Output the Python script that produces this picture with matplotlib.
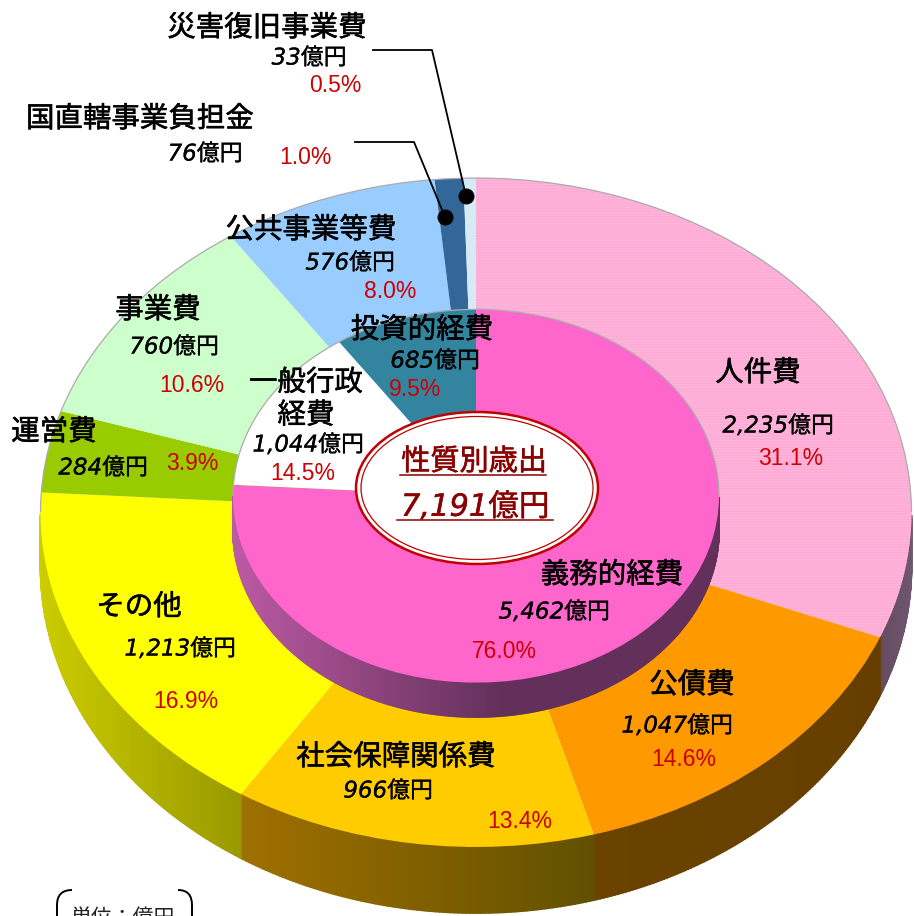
import numpy as np
import matplotlib
matplotlib.use("Agg")
import matplotlib.pyplot as plt
import matplotlib.patheffects as pe
from matplotlib.collections import PolyCollection
from matplotlib.colors import to_rgb
from matplotlib.patches import Ellipse, Arc, PathPatch
from matplotlib.path import Path

# ---- data ----
outer_names = ["人件費", "公債費", "社会保障関係費", "その他", "運営費", "事業費",
               "公共事業等費", "国直轄事業負担金", "災害復旧事業費"]
outer_values = [2235, 1047, 966, 1213, 284, 760, 576, 76, 33]
outer_pct = [31.1, 14.6, 13.4, 16.9, 3.9, 10.6, 8.0, 1.0, 0.5]
inner_names = ["義務的経費", "一般行政\n経費", "投資的経費"]
inner_values = [5462, 1044, 685]
inner_pct = [76.0, 14.5, 9.5]
total_value = 7191
title_text = "性質別歳出"
unit_text = "単位：億円"

# ---- styles ----
outer_colors = ["#FFAAD5", "#FF9900", "#FFCC00", "#FFFF00", "#99CC00", "#CCFFCC",
                "#99CCFF", "#336699", "#D6EAF6"]
outer_side_l = ["#664B60", "#6B4300", "#A07000", "#CCCC00", "#667F00", "#80A080",
                "#6080A0", "#204060", "#8095A0"]
outer_side_r = ["#6E5870", "#663F00", "#625000", "#999900", "#667F00", "#80A080",
                "#6080A0", "#204060", "#8095A0"]
outer_side_span = [1, 1, 1, 1, 1, 1, 1, 1, 1]
inner_colors = ["#FF66CC", "#FFFFFF", "#33849F"]
inner_side_l = ["#BC5AA4", "#AAAAAA", "#205565"]
inner_side_r = ["#62305A", "#AAAAAA", "#205565"]
inner_side_span = [0.55, 1, 1]

W, H = 914, 916
ASPECT = 0.768
OUT_TOP = (476, 512.5, 435.5, 334.5)
OUT_BOT = (476, 566, 435.5, 347)
INN_TOP = (476, 496, 243, 186)
INN_BOT = (476, 530, 243, 187)
RED = "#CC0000"
DARK = "#8B0000"
CJK = "Noto Sans CJK JP"
NUMF = ["DejaVu Sans", CJK]

# label positions in image pixels (centre)
outer_name_xy = [(758, 371), (692, 683), (396, 755), (139, 605), (54, 430),
                 (158, 308), (311, 228), (140, 117), (267, 26)]
outer_val_xy = [(778, 425), (677, 725), (388, 790), (180, 648), (103, 467),
                (174, 346), (350, 262), (205, 153), (309, 57)]
outer_pct_xy = [(791, 457), (684, 757), (520, 820), (186, 699), (192, 462),
                (192, 383), (390, 290), (305, 155), (335, 84)]
inner_name_xy = [(612, 573), (306, 397), (422, 328)]
inner_val_xy = [(554, 611), (308, 444), (435, 360)]
inner_pct_xy = [(504, 649), (303, 471), (415, 388)]


def px(x, y):
    return x, (H - y) / ASPECT


fig = plt.figure(figsize=(W / 100, H / 100), dpi=100)
ax = fig.add_axes([0, 0, 1, 1])


def draw_side(values, top, bot, left, right, span, z):
    fr = np.asarray(values, float) / sum(values)
    edges = np.concatenate([[0], np.cumsum(fr)]) * 360
    for i in range(len(values)):
        ts = np.arange(edges[i], edges[i + 1] + 0.5, 0.5)
        ts = ts[np.cos(np.radians(ts)) < 0.0]
        if len(ts) < 2:
            continue
        xs = top[0] + top[2] * np.sin(np.radians(ts))
        x0, x1 = xs.min(), xs.max()
        c0, c1 = np.array(to_rgb(left[i])), np.array(to_rgb(right[i]))
        polys, cols = [], []
        for a, b in zip(ts[:-1], ts[1:]):
            ra, rb = np.radians(a), np.radians(b)
            q = []
            for (c, r) in ((top, ra), (top, rb), (bot, rb), (bot, ra)):
                q.append(px(c[0] + c[2] * np.sin(r), c[1] - c[3] * np.cos(r)))
            polys.append(q)
            xm = top[0] + top[2] * np.sin((ra + rb) / 2)
            f = min(1.0, (xm - x0) / max(x1 - x0, 1) / span[i])
            cols.append(c0 + (c1 - c0) * f)
        ax.add_collection(PolyCollection(polys, facecolors=cols, edgecolors=cols,
                                         linewidths=1.3, zorder=z))


def draw_face(values, colors, geom, z):
    w, _ = ax.pie(values, colors=colors, startangle=90, counterclock=False,
                  radius=geom[2], center=px(geom[0], geom[1]),
                  wedgeprops=dict(linewidth=0, zorder=z), frame=False)
    return w


plt.rcParams["hatch.linewidth"] = 0.8
draw_side(outer_values, OUT_TOP, OUT_BOT, outer_side_l, outer_side_r, outer_side_span, 1)
w_out = draw_face(outer_values, outer_colors, OUT_TOP, 2)
w_out[0].set_hatch("------")
w_out[0].set_edgecolor("#FFB8DC")
draw_side(inner_values, INN_TOP, INN_BOT, inner_side_l, inner_side_r, inner_side_span, 3)
draw_face(inner_values, inner_colors, INN_TOP, 4)

ax.set_aspect("auto")
ax.set_xlim(0, W)
ax.set_ylim(0, H / ASPECT)
ax.axis("off")

for g, z in ((OUT_TOP, 2.5), (INN_TOP, 4.5)):
    ax.add_patch(Arc(px(g[0], g[1]), 2 * g[2], 2 * g[2], theta1=0, theta2=180,
                     ec="#ABABAB", lw=0.9, zorder=z))

# centre ellipse
cen = px(477, 488)
ax.add_patch(Ellipse(cen, 242, 152 / ASPECT, fc="white", ec="#C00000", lw=1.8, zorder=5))
ax.add_patch(Ellipse(cen, 232, 143 / ASPECT, fc="white", ec="#C00000", lw=0.9, zorder=5))


def text(x, y, s, stroke=0.0, **kw):
    kw.setdefault("ha", "center")
    kw.setdefault("va", "center")
    kw.setdefault("zorder", 8)
    t = ax.text(*px(x, y), s, **kw)
    if stroke:
        t.set_path_effects([pe.withStroke(linewidth=stroke, foreground=kw.get("color", "black"))])


def name(xy, s):
    text(xy[0], xy[1] + 2, s, stroke=0.4, family=CJK, fontsize=20.5, color="black", linespacing=1.12)


def val(xy, v):
    text(xy[0], xy[1] + 1, f"{v:,}億円", stroke=0.2, family=NUMF, style="oblique", fontsize=16.5, color="black")


def pct(xy, v):
    text(xy[0], xy[1] + 2, f"{v:.1f}%", family="Liberation Sans", fontsize=16.5, color=RED)


for i in range(len(outer_names)):
    name(outer_name_xy[i], outer_names[i])
    val(outer_val_xy[i], outer_values[i])
    pct(outer_pct_xy[i], outer_pct[i])
for i in range(len(inner_names)):
    name(inner_name_xy[i], inner_names[i])
    val(inner_val_xy[i], inner_values[i])
    pct(inner_pct_xy[i], inner_pct[i])

text(474, 462, title_text, stroke=0.4, family=CJK, fontsize=21, color=DARK)
text(475, 507, f"{total_value:,}億円", stroke=0.3, family=NUMF, style="oblique", fontsize=22, color=DARK)
for (x0, x1, y) in ((400, 546, 475), (397, 553, 520)):
    ax.plot(*zip(px(x0, y), px(x1, y)), color=DARK, lw=1.1, zorder=8)

# leader lines
for pts in ([(373, 50), (432, 50), (466, 196)], [(355, 142), (414, 142), (445, 217)]):
    xy = [px(*p) for p in pts]
    ax.plot(*zip(*xy), color="black", lw=1.3, zorder=7)
    ax.plot(*xy[-1], "o", color="black", ms=11.5, mew=0, zorder=7)

# unit bracket
for (a, b, c) in (((72, 890), (57, 890), (57, 905)), ((178, 890), (192, 890), (192, 905))):
    verts = [px(*a), px(*b), px(*c), px(c[0], 916)]
    p = Path(verts, [Path.MOVETO, Path.CURVE3, Path.CURVE3, Path.LINETO])
    ax.add_patch(PathPatch(p, fc="none", ec="black", lw=1.4, zorder=7))
text(123, 918, unit_text, family=CJK, fontsize=15, color="#222222")

fig.savefig("out.png", dpi=100)
